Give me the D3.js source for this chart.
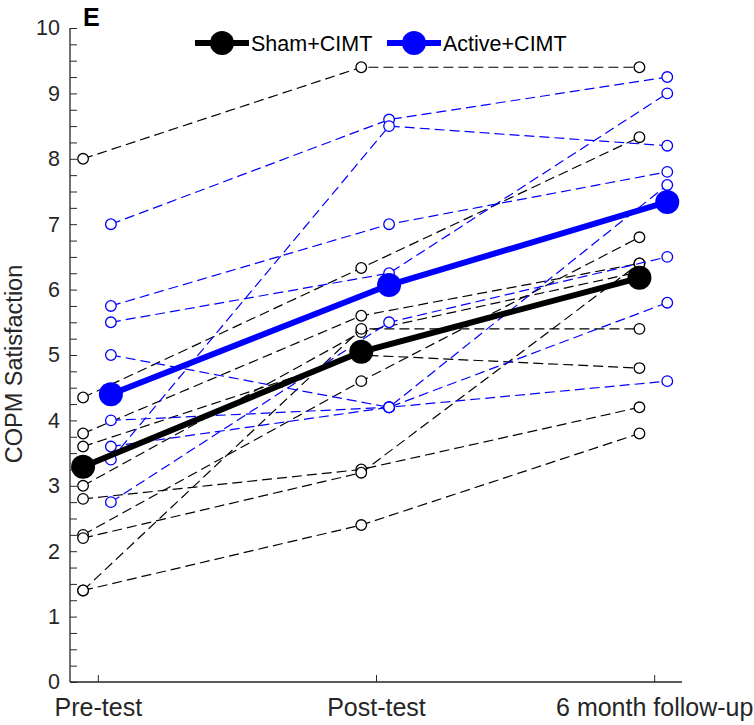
<!DOCTYPE html>
<html>
<head>
<meta charset="utf-8">
<script src="https://cdn.jsdelivr.net/npm/d3@7"></script>
<style>
  html, body { margin: 0; padding: 0; background: #fff; }
  svg { display: block; font-family: "Liberation Sans", Arial, Helvetica, sans-serif; }
</style>
</head>
<body>
<svg id="chart" width="754" height="725"></svg>
<script>
// ---- data ----
const categories = ["Pre-test", "Post-test", "6 month follow-up"];
const yTicks = [0, 1, 2, 3, 4, 5, 6, 7, 8, 9, 10];
const seriesNames = ["Sham+CIMT", "Active+CIMT"];

// individual subjects, Sham+CIMT: [pre, post, follow-up]
const shamSubjects = [
  [8.0, 9.4, 9.4],
  [4.35, 6.33, 8.33],
  [3.8, 5.6, 6.4],
  [3.6, 5.0, 4.8],
  [3.0, 5.35, 6.27],
  [2.8, 3.25, 4.2],
  [2.25, 4.6, 6.8],
  [2.2, 3.2, 6.4],
  [1.4, 5.4, 5.4],
  [1.4, 2.4, 3.8]
];
// individual subjects, Active+CIMT
const activeSubjects = [
  [7.0, 8.6, 9.25],
  [5.75, 7.0, 7.8],
  [5.5, 6.25, 9.0],
  [5.0, 4.2, 5.8],
  [4.0, 4.2, 4.6],
  [3.6, 4.2, 7.6],
  [3.4, 8.5, 8.2],
  [2.75, 5.5, 6.5]
];
const shamMean = [3.29, 5.05, 6.18];
const activeMean = [4.4, 6.07, 7.34];

// ---- layout ----
const svg = d3.select("#chart");
const x = d3.scaleLinear().domain([0.9, 3.1]).range([70, 682]);
const y = d3.scaleLinear().domain([0, 10]).range([682, 28]);
const offSham = -0.053, offActive = 0.047;
const black = "#000000", blue = "#0000ff";

// axes (MATLAB style: inward ticks, no box)
const yAxis = d3.axisLeft(y).tickValues(d3.range(0, 10.001, 0.25)).tickSize(-7)
  .tickFormat(d => (yTicks.includes(Math.round(d * 100) / 100) ? d3.format("d")(d) : ""));
const gy = svg.append("g").attr("transform", "translate(70,0)").call(yAxis);
gy.select(".domain").attr("d", "M0,28V682").attr("stroke", "#262626").attr("stroke-width", 1.3);
gy.selectAll(".tick line").attr("stroke", "#262626").attr("stroke-width", 1);
gy.selectAll(".tick text").attr("x", -10).attr("font-size", 21.5).attr("fill", "#262626")
  .attr("font-family", "Liberation Sans, Arial, sans-serif");

const xAxis = d3.axisBottom(x).tickValues([1, 2, 3]).tickSize(-7)
  .tickFormat(d => categories[d - 1]);
const gx = svg.append("g").attr("transform", "translate(0,682)").call(xAxis);
gx.select(".domain").attr("d", "M70,0H682").attr("stroke", "#262626").attr("stroke-width", 1.3);
gx.selectAll(".tick line").attr("stroke", "#262626").attr("stroke-width", 1);
gx.selectAll(".tick text").attr("y", 16).attr("dy", "0.71em").attr("font-size", 25).attr("fill", "#262626")
  .attr("font-family", "Liberation Sans, Arial, sans-serif");

// y label
svg.append("text")
  .attr("transform", "translate(22,364) rotate(-90)")
  .attr("text-anchor", "middle")
  .attr("font-size", 23.5).attr("fill", "#262626")
  .text("COPM Satisfaction");

// panel letter
svg.append("text").attr("x", 83).attr("y", 26)
  .attr("font-size", 25).attr("font-weight", "bold").attr("fill", "#000").text("E");

const line = off => d3.line().x((d, i) => x(i + 1 + off)).y(d => y(d));

function drawSubjects(data, off, color) {
  const g = svg.append("g");
  g.selectAll("path").data(data).join("path")
    .attr("d", line(off))
    .attr("fill", "none").attr("stroke", color).attr("stroke-width", 1.2)
    .attr("stroke-dasharray", "10,5");
  data.forEach(s => {
    g.selectAll(null).data(s).join("circle")
      .attr("cx", (d, i) => x(i + 1 + off)).attr("cy", d => y(d))
      .attr("r", 5.3).attr("fill", "#fff").attr("stroke", color).attr("stroke-width", 1.3);
  });
}
drawSubjects(shamSubjects, offSham, black);
drawSubjects(activeSubjects, offActive, blue);

function drawMean(data, off, color) {
  const g = svg.append("g");
  g.append("path").datum(data).attr("d", line(off))
    .attr("fill", "none").attr("stroke", color).attr("stroke-width", 6);
  g.selectAll("circle").data(data).join("circle")
    .attr("cx", (d, i) => x(i + 1 + off)).attr("cy", d => y(d))
    .attr("r", 12).attr("fill", color);
}
drawMean(shamMean, offSham, black);
drawMean(activeMean, offActive, blue);

// legend
const legend = [
  { name: seriesNames[0], color: black, x0: 195 },
  { name: seriesNames[1], color: blue, x0: 387 }
];
const lg = svg.append("g");
legend.forEach(l => {
  lg.append("line").attr("x1", l.x0).attr("x2", l.x0 + 54).attr("y1", 43).attr("y2", 43)
    .attr("stroke", l.color).attr("stroke-width", 6);
  lg.append("circle").attr("cx", l.x0 + 27).attr("cy", 43).attr("r", 12).attr("fill", l.color);
  lg.append("text").attr("x", l.x0 + 56).attr("y", 43).attr("dy", "0.36em")
    .attr("font-size", 21.5).attr("fill", "#000").text(l.name);
});
</script>
</body>
</html>
